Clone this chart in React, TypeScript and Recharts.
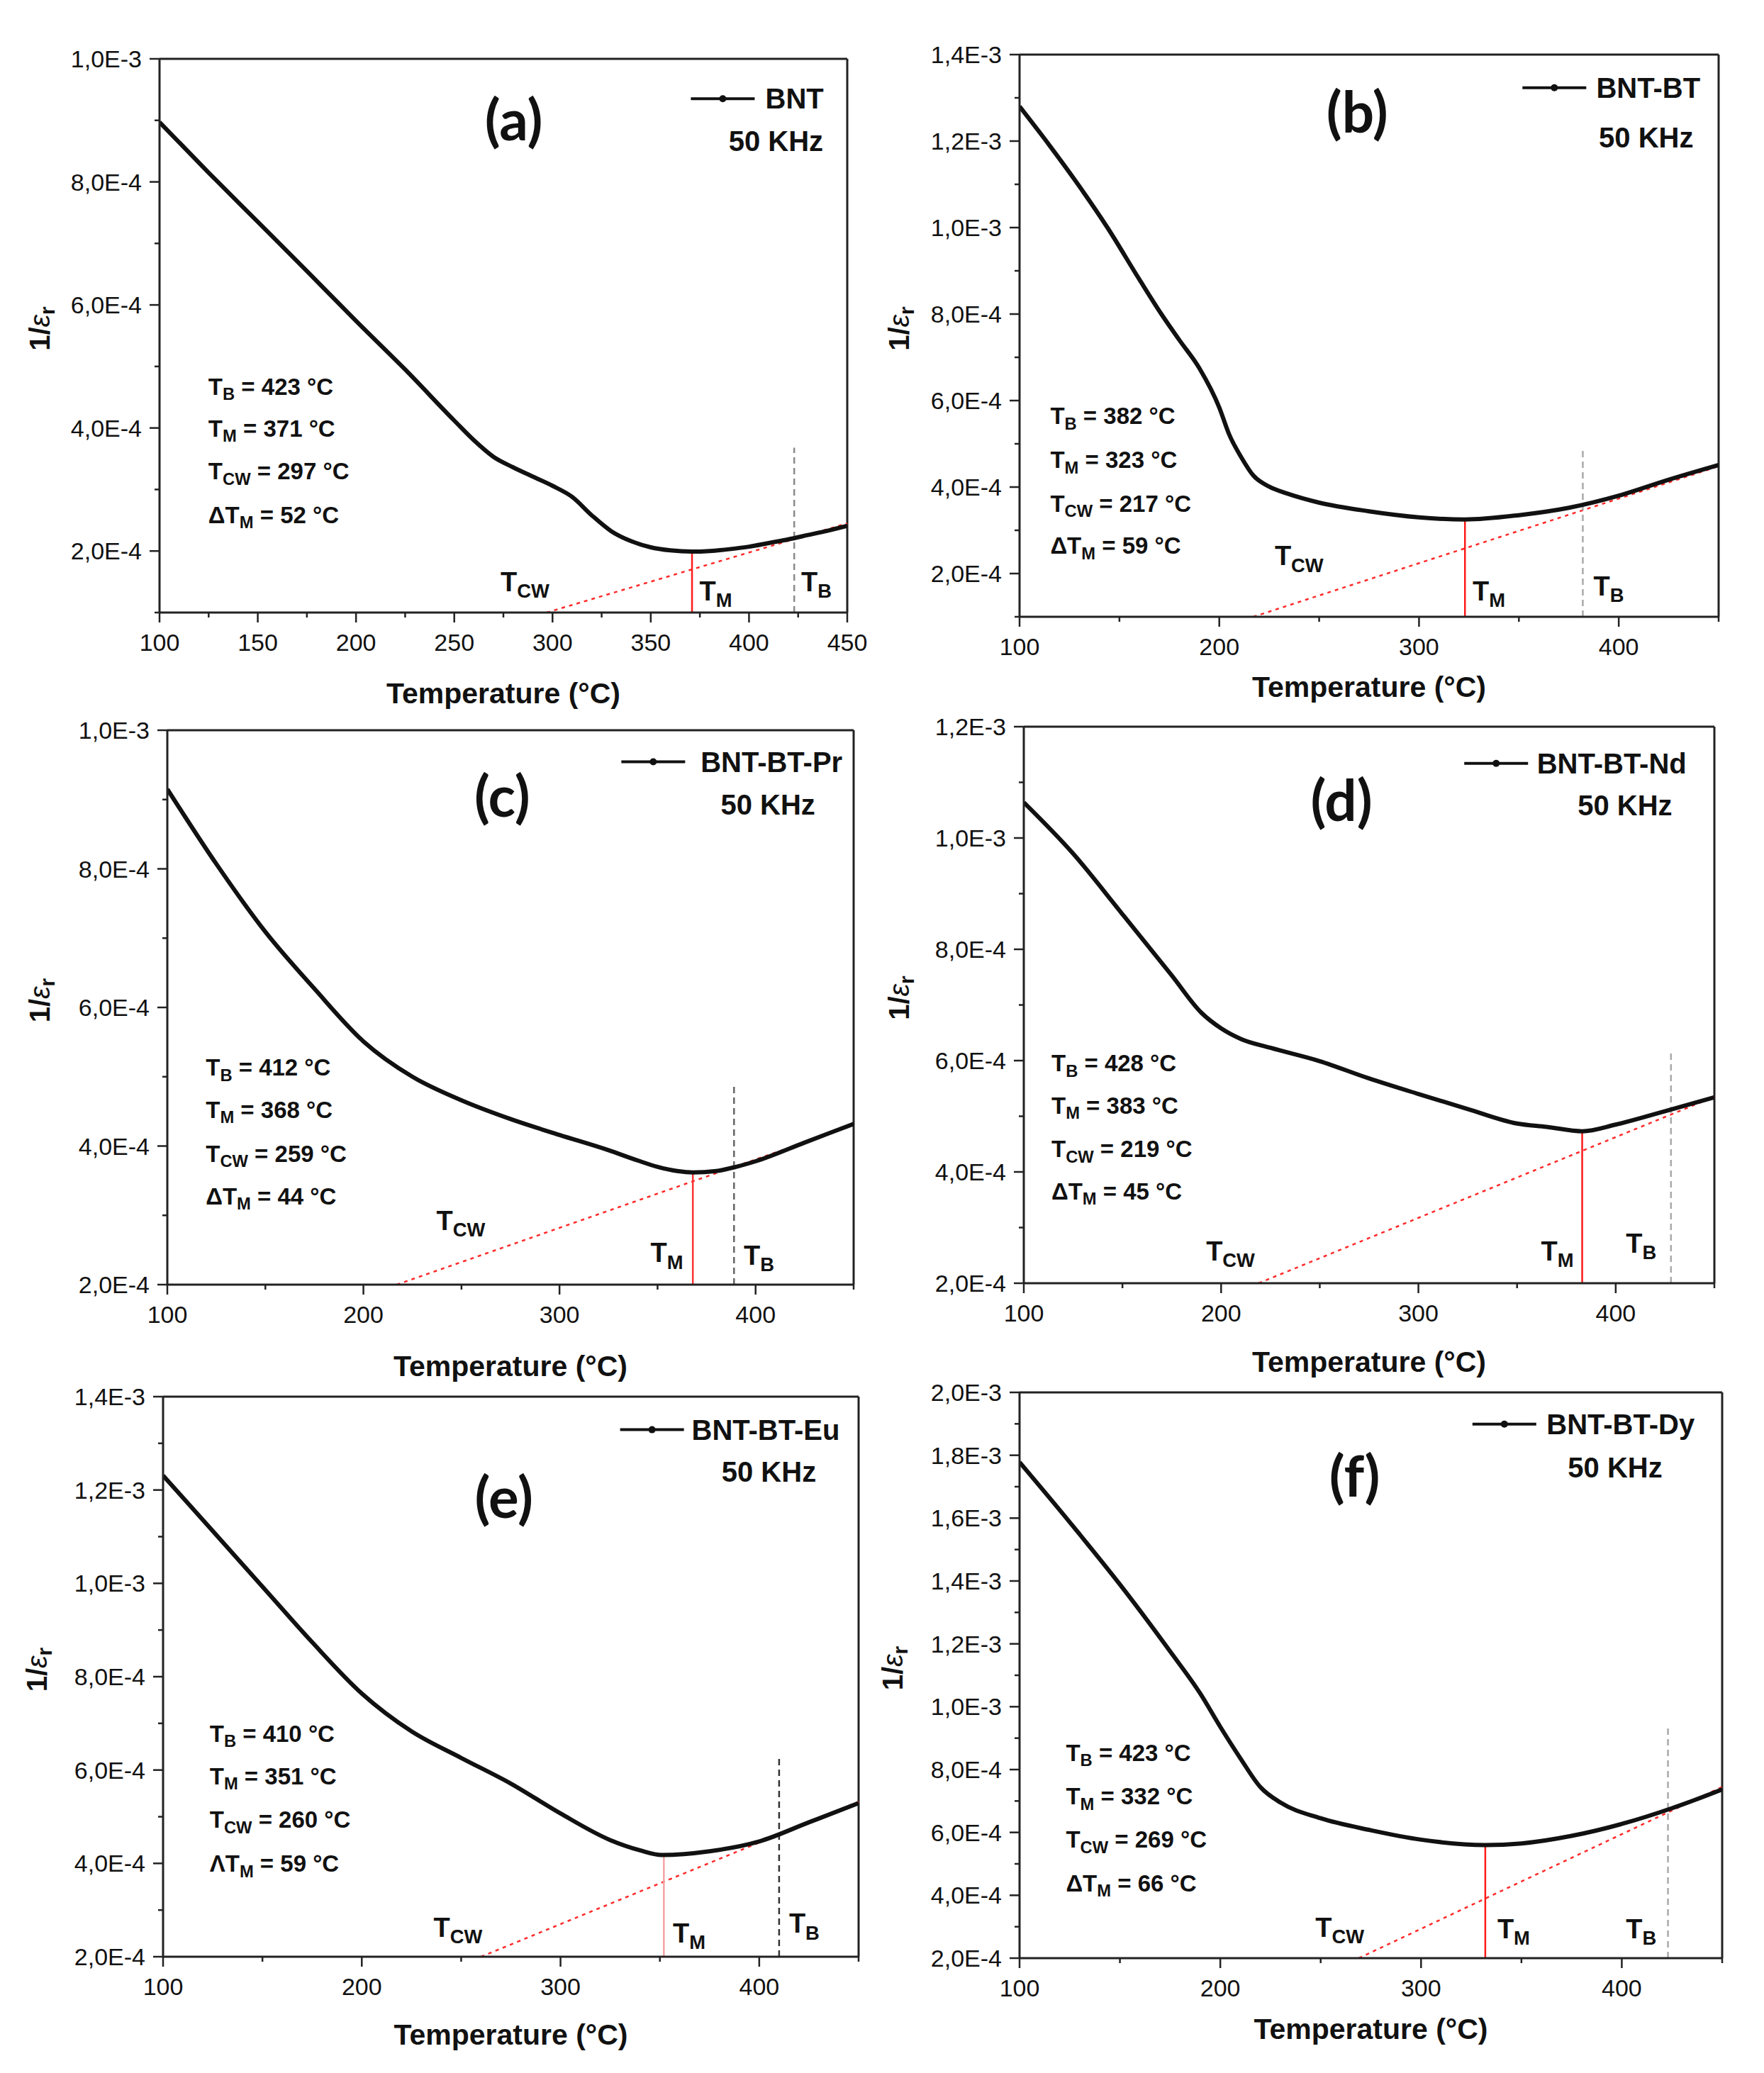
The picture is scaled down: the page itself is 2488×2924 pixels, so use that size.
import React from "react";
import { LineChart, Line, XAxis, YAxis, ReferenceLine, ReferenceDot } from "recharts";

const FONT = '"Liberation Sans", Arial, sans-serif';
const TITLE_FONT = 'Lato, "Open Sans", sans-serif';

// (a) BNT
const tempBNT = [100, 125, 150, 175, 200, 225, 250, 260, 270, 280, 290, 300, 310, 320, 330, 340, 350, 360, 371, 380, 390, 400, 410, 420, 430, 440, 450];
const invEpsBNT = [8.97e-4, 8.15e-4, 7.35e-4, 6.55e-4, 5.74e-4, 4.95e-4, 4.12e-4, 3.8e-4, 3.53e-4, 3.36e-4, 3.21e-4, 3.06e-4, 2.88e-4, 2.58e-4, 2.32e-4, 2.16e-4, 2.06e-4, 2.01e-4, 1.99e-4, 2.0e-4, 2.03e-4, 2.07e-4, 2.13e-4, 2.19e-4, 2.26e-4, 2.33e-4, 2.41e-4];
const statsBNT = [423, 371, 297, 52]; // TB, TM, TCW, ΔTM
const markersBNT = [371, 2.0e-4, 423, 3.68e-4]; // TM x, TM top, TB x, TB top
const cwFitBNT = [297, 1.0e-4, 450, 2.45e-4];

// (b) BNT-BT
const tempBT = [100, 115, 130, 144, 160, 171, 180, 190, 200, 205, 211, 217, 225, 234, 250, 275, 300, 323, 350, 375, 400, 425, 450];
const invEpsBT = [1.28e-3, 1.19e-3, 1.095e-3, 1.0e-3, 8.8e-4, 8.0e-4, 7.4e-4, 6.75e-4, 5.84e-4, 5.21e-4, 4.69e-4, 4.27e-4, 4.01e-4, 3.85e-4, 3.64e-4, 3.44e-4, 3.3e-4, 3.25e-4, 3.35e-4, 3.52e-4, 3.8e-4, 4.17e-4, 4.51e-4];
const statsBT = [382, 323, 217, 59];
const markersBT = [323, 3.25e-4, 382, 4.85e-4];
const cwFitBT = [217, 1.0e-4, 450, 4.48e-4];

// (c) BNT-BT-Pr
const tempPr = [100, 125, 150, 175, 200, 225, 250, 275, 300, 325, 340, 350, 360, 368, 380, 390, 400, 425, 450];
const invEpsPr = [9.15e-4, 8.07e-4, 7.09e-4, 6.27e-4, 5.51e-4, 5.0e-4, 4.66e-4, 4.39e-4, 4.16e-4, 3.94e-4, 3.79e-4, 3.7e-4, 3.64e-4, 3.62e-4, 3.64e-4, 3.7e-4, 3.78e-4, 4.05e-4, 4.32e-4];
const statsPr = [412, 368, 259, 44];
const markersPr = [368, 3.62e-4, 389, 4.86e-4];
const cwFitPr = [217, 2.0e-4, 450, 4.3e-4];

// (d) BNT-BT-Nd
const tempNd = [100, 125, 150, 175, 190, 200, 210, 225, 250, 275, 300, 325, 350, 365, 383, 400, 425, 450];
const invEpsNd = [1.064e-3, 9.72e-4, 8.63e-4, 7.53e-4, 6.86e-4, 6.58e-4, 6.39e-4, 6.23e-4, 5.99e-4, 5.68e-4, 5.4e-4, 5.13e-4, 4.87e-4, 4.81e-4, 4.73e-4, 4.85e-4, 5.09e-4, 5.34e-4];
const statsNd = [428, 383, 219, 45];
const markersNd = [383, 4.73e-4, 428, 6.19e-4];
const cwFitNd = [219, 2.0e-4, 450, 5.35e-4];

// (e) BNT-BT-Eu
const tempEu = [100, 125, 150, 175, 200, 225, 250, 275, 300, 325, 340, 351, 375, 400, 425, 450];
const invEpsEu = [1.231e-3, 1.112e-3, 9.93e-4, 8.74e-4, 7.64e-4, 6.83e-4, 6.26e-4, 5.71e-4, 5.07e-4, 4.5e-4, 4.28e-4, 4.18e-4, 4.26e-4, 4.47e-4, 4.88e-4, 5.29e-4];
const statsEu = [410, 351, 260, 59];
const markersEu = [352, 4.18e-4, 410, 6.26e-4];
const cwFitEu = [260, 2.0e-4, 450, 5.32e-4];

// (f) BNT-BT-Dy
const tempDy = [100, 125, 150, 175, 190, 200, 210, 220, 230, 250, 275, 300, 332, 350, 375, 400, 425, 450];
const invEpsDy = [1.778e-3, 1.587e-3, 1.389e-3, 1.176e-3, 1.042e-3, 9.36e-4, 8.36e-4, 7.44e-4, 6.95e-4, 6.45e-4, 6.07e-4, 5.77e-4, 5.6e-4, 5.65e-4, 5.89e-4, 6.27e-4, 6.77e-4, 7.37e-4];
const statsDy = [423, 332, 269, 66];
const markersDy = [332, 5.6e-4, 423, 9.43e-4];
const cwFitDy = [269, 2.0e-4, 450, 7.45e-4];

// axis ticks
const xTicksFine = [100, 125, 150, 175, 200, 225, 250, 275, 300, 325, 350, 375, 400, 425, 450];
const xTicksCoarse = [100, 150, 200, 250, 300, 350, 400, 450];

type Layout = {
  rect: number[]; // plot left, top, right, bottom (page px)
  title: number[];
  legLine: number[];
  legText: number[];
  freq: number[];
  statsX: number;
  statsY: number[];
  tcw: number[];
  tm: number[];
  tb: number[];
  yTitleOff: number;
  xTitleOff: number;
};

type Panel = {
  tag: string;
  name: string;
  temps: number[];
  values: number[];
  stats: number[];
  markers: number[];
  cw: number[];
  yRange: number[];
  xTicks: number[];
  xMajor: number;
  tmColor: string;
  tbColor: string;
  delta: string;
  lay: Layout;
};

const panels: Panel[] = [
  {
    tag: "(a)", name: "BNT", temps: tempBNT, values: invEpsBNT, stats: statsBNT, markers: markersBNT, cw: cwFitBNT,
    yRange: [1e-4, 1e-3], xTicks: xTicksFine, xMajor: 50, tmColor: "#ff1a1a", tbColor: "#8a8a8a", delta: "Δ",
    lay: {
      rect: [225, 83, 1195, 864], title: [0.515, 0.108], legLine: [0.819, 0.072], legText: [0.881, 0.072],
      freq: [0.965, 0.148], statsX: 0.071, statsY: [0.591, 0.667, 0.744, 0.823],
      tcw: [0.496, 0.945], tm: [0.785, 0.962], tb: [0.933, 0.945], yTitleOff: 169, xTitleOff: 114,
    },
  },
  {
    tag: "(b)", name: "BNT-BT", temps: tempBT, values: invEpsBT, stats: statsBT, markers: markersBT, cw: cwFitBT,
    yRange: [1e-4, 1.4e-3], xTicks: xTicksCoarse, xMajor: 100, tmColor: "#ff1a1a", tbColor: "#aaaaaa", delta: "Δ",
    lay: {
      rect: [1438, 77, 2424, 870], title: [0.483, 0.099], legLine: [0.765, 0.059], legText: [0.825, 0.059],
      freq: [0.964, 0.148], statsX: 0.044, statsY: [0.642, 0.72, 0.798, 0.873],
      tcw: [0.365, 0.892], tm: [0.648, 0.955], tb: [0.821, 0.946], yTitleOff: 170, xTitleOff: 99,
    },
  },
  {
    tag: "(c)", name: "BNT-BT-Pr", temps: tempPr, values: invEpsPr, stats: statsPr, markers: markersPr, cw: cwFitPr,
    yRange: [2e-4, 1e-3], xTicks: xTicksCoarse, xMajor: 100, tmColor: "#ff3333", tbColor: "#666666", delta: "Δ",
    lay: {
      rect: [236, 1030, 1204, 1812], title: [0.488, 0.117], legLine: [0.708, 0.057], legText: [0.777, 0.057],
      freq: [0.944, 0.134], statsX: 0.056, statsY: [0.608, 0.684, 0.763, 0.84],
      tcw: [0.392, 0.885], tm: [0.704, 0.943], tb: [0.84, 0.947], yTitleOff: 180, xTitleOff: 115,
    },
  },
  {
    tag: "(d)", name: "BNT-BT-Nd", temps: tempNd, values: invEpsNd, stats: statsNd, markers: markersNd, cw: cwFitNd,
    yRange: [2e-4, 1.2e-3], xTicks: xTicksCoarse, xMajor: 100, tmColor: "#ff1a1a", tbColor: "#aaaaaa", delta: "Δ",
    lay: {
      rect: [1444, 1025, 2418, 1810], title: [0.46, 0.13], legLine: [0.684, 0.066], legText: [0.743, 0.066],
      freq: [0.939, 0.142], statsX: 0.04, statsY: [0.604, 0.68, 0.758, 0.834],
      tcw: [0.264, 0.943], tm: [0.749, 0.943], tb: [0.872, 0.929], yTitleOff: 176, xTitleOff: 111,
    },
  },
  {
    tag: "(e)", name: "BNT-BT-Eu", temps: tempEu, values: invEpsEu, stats: statsEu, markers: markersEu, cw: cwFitEu,
    yRange: [2e-4, 1.4e-3], xTicks: xTicksCoarse, xMajor: 100, tmColor: "#f5a3a3", tbColor: "#333333", delta: "Λ",
    lay: {
      rect: [230, 1970, 1211, 2760], title: [0.49, 0.177], legLine: [0.703, 0.059], legText: [0.76, 0.059],
      freq: [0.939, 0.134], statsX: 0.067, statsY: [0.601, 0.677, 0.755, 0.833],
      tcw: [0.389, 0.948], tm: [0.733, 0.958], tb: [0.9, 0.941], yTitleOff: 178, xTitleOff: 110,
    },
  },
  {
    tag: "(f)", name: "BNT-BT-Dy", temps: tempDy, values: invEpsDy, stats: statsDy, markers: markersDy, cw: cwFitDy,
    yRange: [2e-4, 2e-3], xTicks: xTicksCoarse, xMajor: 100, tmColor: "#ff1a1a", tbColor: "#aaaaaa", delta: "Δ",
    lay: {
      rect: [1438, 1964, 2429, 2762], title: [0.477, 0.145], legLine: [0.69, 0.056], legText: [0.75, 0.056],
      freq: [0.915, 0.133], statsX: 0.066, statsY: [0.636, 0.713, 0.79, 0.867],
      tcw: [0.421, 0.946], tm: [0.68, 0.949], tb: [0.863, 0.949], yTitleOff: 179, xTitleOff: 100,
    },
  },
];

const sciLabel = (v: number) => {
  const exp = Math.floor(Math.log10(v) + 1e-9);
  const mant = v / Math.pow(10, exp);
  return `${mant.toFixed(1).replace(".", ",")}E${exp}`;
};

// text with subscripts: [text, isSub]
const rich = (parts: [string, boolean][], size: number) =>
  parts.map(([s, sub], i) => {
    const prevSub = i > 0 && parts[i - 1][1];
    let dy = 0;
    if (sub && !prevSub) dy = size * 0.32;
    if (!sub && prevSub) dy = -size * 0.32;
    return (
      <tspan key={i} dy={dy} fontSize={sub ? size * 0.72 : size}>
        {s}
      </tspan>
    );
  });

const PAD_TOP = 60;
const PAD_RIGHT = 60;
const AXIS_W = 240;
const AXIS_H = 170;

function PanelChart({ p }: { p: Panel }) {
  const [L, T, R, B] = p.lay.rect;
  const plotW = R - L;
  const plotH = B - T;
  const width = plotW + AXIS_W + PAD_RIGHT;
  const height = plotH + PAD_TOP + AXIS_H;
  const data = p.temps.map((t, i) => ({ t, v: p.values[i] }));
  const [y0, y1] = p.yRange;
  const yTicks: number[] = [];
  for (let k = Math.round(y0 * 1e4); k <= Math.round(y1 * 1e4); k++) yTicks.push(k / 1e4);
  const fx = (f: number) => 100 + f * 350;
  const fy = (f: number) => y1 - f * (y1 - y0);
  const [tmX, tmTop, tbX, tbTop] = p.markers;
  const [cx0, cy0, cx1, cy1] = p.cw;
  const [sTB, sTM, sTCW, sDT] = p.stats;

  const xTick = (props: any) => {
    const { x, y, payload } = props;
    const v = payload.value;
    const major = v % p.xMajor === 0;
    return (
      <g>
        <line x1={x} y1={y} x2={x} y2={y + (major ? 14 : 7)} stroke="#222" strokeWidth={2.5} />
        {major && (
          <text x={x} y={y + 42} textAnchor="middle" dominantBaseline="central" fontFamily={FONT} fontSize={34} fill="#111">
            {v}
          </text>
        )}
      </g>
    );
  };

  const yTick = (props: any) => {
    const { x, y, payload } = props;
    const v = payload.value;
    const major = Math.round(v * 1e4) % 2 === 0;
    return (
      <g>
        <line x1={x} y1={y} x2={x - (major ? 14 : 7)} y2={y} stroke="#222" strokeWidth={2.5} />
        {major && (
          <text x={x - 25} y={y} textAnchor="end" dominantBaseline="central" fontFamily={FONT} fontSize={34} fill="#111">
            {sciLabel(v)}
          </text>
        )}
      </g>
    );
  };

  const yTitle = (props: any) => {
    const vb = props.viewBox || {};
    const cx = (vb.x ?? 0) + (vb.width ?? AXIS_W) - p.lay.yTitleOff;
    const cy = (vb.y ?? PAD_TOP) + (vb.height ?? plotH) / 2 - 10;
    return (
      <text x={cx} y={cy} transform={`rotate(-90, ${cx}, ${cy})`} textAnchor="middle" dominantBaseline="central" fontFamily={FONT} fontWeight={700} fontSize={40} fill="#111">
        <tspan>1/</tspan>
        <tspan fontStyle="italic" fontWeight={400}>ε</tspan>
        <tspan dy={10} fontSize={30}>r</tspan>
      </text>
    );
  };

  const xTitle = (props: any) => {
    const vb = props.viewBox || {};
    const cx = (vb.x ?? AXIS_W) + (vb.width ?? plotW) / 2;
    const cy = (vb.y ?? PAD_TOP + plotH) + p.lay.xTitleOff;
    return (
      <text x={cx} y={cy} textAnchor="middle" dominantBaseline="central" fontFamily={FONT} fontWeight={700} fontSize={41} fill="#111">
        Temperature (°C)
      </text>
    );
  };

  const statLines: [string, boolean][][] = [
    [["T", false], ["B", true], [` = ${sTB} °C`, false]],
    [["T", false], ["M", true], [` = ${sTM} °C`, false]],
    [["T", false], ["CW", true], [` = ${sTCW} °C`, false]],
    [[`${p.delta}T`, false], ["M", true], [` = ${sDT} °C`, false]],
  ];

  const lab = (parts: [string, boolean][], size: number, anchor = "start", weight = 700, family = FONT) =>
    (d: any) => (
      <text x={d.cx} y={d.cy} textAnchor={anchor as any} dominantBaseline="central" fontFamily={family} fontWeight={weight} fontSize={size} fill="#111">
        {rich(parts, size)}
      </text>
    );

  return (
    <div style={{ position: "absolute", left: L - AXIS_W, top: T - PAD_TOP }}>
      <LineChart width={width} height={height} data={data} margin={{ top: PAD_TOP, right: PAD_RIGHT, left: 0, bottom: 0 }}>
        <XAxis
          dataKey="t"
          type="number"
          domain={[100, 450]}
          ticks={p.xTicks}
          interval={0}
          tickSize={0}
          tickMargin={0}
          tickLine={false}
          tick={xTick}
          height={AXIS_H}
          axisLine={{ stroke: "#222", strokeWidth: 3 }}
          allowDataOverflow
          label={xTitle}
        />
        <YAxis
          type="number"
          domain={[y0, y1]}
          ticks={yTicks}
          interval={0}
          tickSize={0}
          tickMargin={0}
          tickLine={false}
          tick={yTick}
          width={AXIS_W}
          axisLine={{ stroke: "#222", strokeWidth: 3 }}
          allowDataOverflow
          label={yTitle}
        />
        <ReferenceLine y={y1} stroke="#222" strokeWidth={3} />
        <ReferenceLine x={450} stroke="#222" strokeWidth={3} />
        <ReferenceLine segment={[{ x: cx0, y: cy0 }, { x: cx1, y: cy1 }]} stroke="#ff2a2a" strokeWidth={2.5} strokeDasharray="5 6" />
        <ReferenceLine segment={[{ x: tmX, y: y0 }, { x: tmX, y: tmTop }]} stroke={p.tmColor} strokeWidth={2.5} />
        <ReferenceLine segment={[{ x: tbX, y: y0 }, { x: tbX, y: tbTop }]} stroke={p.tbColor} strokeWidth={2.5} strokeDasharray="9 6" />
        <Line type="monotone" dataKey="v" stroke="#111" strokeWidth={6} dot={false} isAnimationActive={false} />

        <ReferenceDot x={fx(p.lay.title[0])} y={fy(p.lay.title[1])} r={0} shape={lab([[p.tag, false]], 80, "middle", 700, TITLE_FONT)} />
        <ReferenceDot
          x={fx(p.lay.legLine[0])}
          y={fy(p.lay.legLine[1])}
          r={0}
          shape={(d: any) => (
            <g>
              <line x1={d.cx - 45} y1={d.cy} x2={d.cx + 45} y2={d.cy} stroke="#111" strokeWidth={4} />
              <circle cx={d.cx} cy={d.cy} r={5} fill="#111" />
            </g>
          )}
        />
        <ReferenceDot x={fx(p.lay.legText[0])} y={fy(p.lay.legText[1])} r={0} shape={lab([[p.name, false]], 40)} />
        <ReferenceDot x={fx(p.lay.freq[0])} y={fy(p.lay.freq[1])} r={0} shape={lab([["50 KHz", false]], 40, "end")} />
        {statLines.map((parts, i) => (
          <ReferenceDot key={i} x={fx(p.lay.statsX)} y={fy(p.lay.statsY[i])} r={0} shape={lab(parts, 33)} />
        ))}
        <ReferenceDot x={fx(p.lay.tcw[0])} y={fy(p.lay.tcw[1])} r={0} shape={lab([["T", false], ["CW", true]], 38)} />
        <ReferenceDot x={fx(p.lay.tm[0])} y={fy(p.lay.tm[1])} r={0} shape={lab([["T", false], ["M", true]], 38)} />
        <ReferenceDot x={fx(p.lay.tb[0])} y={fy(p.lay.tb[1])} r={0} shape={lab([["T", false], ["B", true]], 38)} />
      </LineChart>
    </div>
  );
}

export default function App() {
  return (
    <div style={{ position: "absolute", left: 0, top: 0, width: 2488, height: 2924, background: "#fff" }}>
      {panels.map((p) => (
        <PanelChart key={p.tag} p={p} />
      ))}
    </div>
  );
}
